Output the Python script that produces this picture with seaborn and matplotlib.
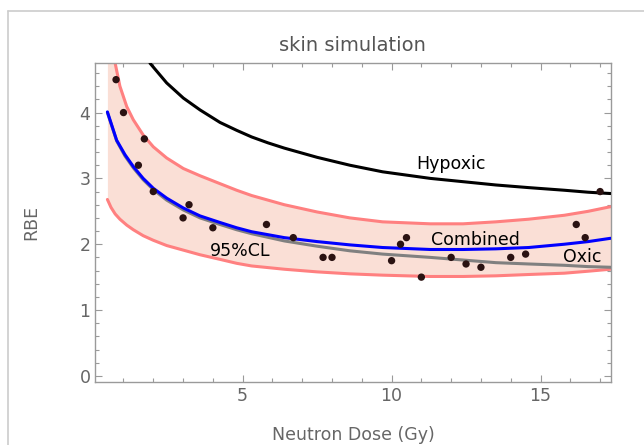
import numpy as np
import seaborn as sns
import matplotlib.pyplot as plt
from matplotlib.ticker import MultipleLocator
from matplotlib.lines import Line2D

# measured data points (dose in Gy, RBE)
dose_pts = [0.75, 1.0, 1.7, 1.5, 2.0, 3.2, 3.0, 4.0, 5.8, 6.7, 7.7, 8.0,
            10.0, 10.3, 10.5, 11.0, 12.0, 12.5, 13.0, 14.0, 14.5, 16.2, 16.5, 17.0]
rbe_pts = [4.5, 4.0, 3.6, 3.2, 2.8, 2.6, 2.4, 2.25, 2.3, 2.1, 1.8, 1.8,
           1.75, 2.0, 2.1, 1.5, 1.8, 1.7, 1.65, 1.8, 1.85, 2.3, 2.1, 2.8]

# fitted curves
fit_dose = [0.46, 0.77, 1.05, 1.33, 1.66, 2.0, 2.45, 3.01, 3.57, 4.24, 4.8,
            5.3, 6.4, 7.5, 8.6, 9.7, 11.3, 12.4, 13.5, 14.6, 15.8, 16.6, 17.35]
combined = [4.01, 3.58, 3.36, 3.18, 3.00, 2.85, 2.70, 2.55, 2.43, 2.33, 2.25,
            2.19, 2.10, 2.04, 1.99, 1.95, 1.92, 1.92, 1.93, 1.95, 2.00, 2.04, 2.09]
oxic = [4.00, 3.57, 3.34, 3.16, 2.98, 2.83, 2.67, 2.52, 2.40, 2.30, 2.22,
        2.16, 2.05, 1.97, 1.90, 1.85, 1.80, 1.76, 1.72, 1.70, 1.68, 1.66, 1.65]

hyp_dose = [1.89, 2.45, 3.01, 3.57, 4.24, 4.8, 5.3, 5.85, 6.4, 7.5, 8.6,
            9.7, 11.3, 12.4, 13.5, 14.6, 15.8, 16.6, 17.35]
hypoxic = [4.75, 4.45, 4.22, 4.04, 3.85, 3.73, 3.63, 3.54, 3.46, 3.32, 3.20,
           3.10, 3.00, 2.95, 2.90, 2.86, 2.82, 2.79, 2.77]

cl_dose = [0.46, 0.58, 0.72, 0.88, 1.11, 1.33, 1.66, 2.0, 2.45, 3.01, 3.57,
           4.24, 4.8, 5.3, 6.4, 7.5, 8.6, 9.7, 11.3, 12.4, 13.5, 14.6, 15.8,
           16.6, 17.35]
cl_upper = [5.7, 5.2, 4.75, 4.40, 4.09, 3.89, 3.66, 3.48, 3.31, 3.15, 3.04,
            2.92, 2.82, 2.74, 2.60, 2.49, 2.40, 2.34, 2.31, 2.31, 2.34, 2.38,
            2.44, 2.50, 2.57]
cl_lower = [2.68, 2.56, 2.46, 2.38, 2.29, 2.22, 2.13, 2.06, 1.98, 1.91, 1.84,
            1.77, 1.71, 1.67, 1.62, 1.58, 1.55, 1.53, 1.51, 1.51, 1.52, 1.54,
            1.56, 1.59, 1.62]

sns.set_style("ticks")
plt.rcParams['font.family'] = ['DejaVu Sans']

frame_col = '#9a9a9a'
text_col = '#666666'
pink = '#ff8080'

fig = plt.figure(figsize=(6.44, 4.45), dpi=100)
ax = fig.add_axes([0.148, 0.142, 0.800, 0.716])

ax.fill_between(cl_dose, cl_lower, cl_upper, color='#fadfd6', lw=0, zorder=1)
sns.lineplot(x=cl_dose, y=cl_upper, color=pink, lw=2.2, ax=ax, zorder=2)
sns.lineplot(x=cl_dose, y=cl_lower, color=pink, lw=2.2, ax=ax, zorder=2)
sns.lineplot(x=hyp_dose, y=hypoxic, color='black', lw=2.2, ax=ax, zorder=3)
sns.lineplot(x=fit_dose, y=oxic, color='#808080', lw=2.2, ax=ax, zorder=3)
sns.lineplot(x=fit_dose, y=combined, color='#0000ff', lw=2.2, ax=ax, zorder=4)
sns.scatterplot(x=dose_pts, y=rbe_pts, color='#2a1212', s=28, edgecolor='none',
                ax=ax, zorder=5)

ax.text(12.0, 3.22, "Hypoxic", fontsize=12.5, color='black', ha='center', va='center')
ax.text(12.8, 2.07, "Combined", fontsize=12.5, color='black', ha='center', va='center')
ax.text(16.4, 1.81, "Oxic", fontsize=12.5, color='black', ha='center', va='center')
ax.text(4.9, 1.89, "95%CL", fontsize=12.5, color='black', ha='center', va='center')

ax.set_xlim(0.054, 17.35)
ax.set_ylim(-0.09, 4.75)
ax.xaxis.set_major_locator(MultipleLocator(5))
ax.xaxis.set_minor_locator(MultipleLocator(1))
ax.yaxis.set_major_locator(MultipleLocator(1))
ax.yaxis.set_minor_locator(MultipleLocator(0.2))
ax.tick_params(which='both', direction='in', top=True, right=True,
               color=frame_col, labelcolor=text_col, labelsize=12.5, width=0.8)
ax.tick_params(which='major', length=5)
ax.tick_params(which='minor', length=3)
for s in ax.spines.values():
    s.set_color(frame_col)
    s.set_linewidth(1.0)

ax.set_title("skin simulation", color='#555555', fontsize=14, pad=9)
ax.set_xlabel("Neutron Dose (Gy)", color=text_col, fontsize=12.5, labelpad=15)
ax.set_ylabel("RBE", color=text_col, fontsize=12.5, labelpad=28)

# outer notebook frame
fig.add_artist(Line2D([0.0125, 0.0125], [0.0, 0.975], color='#cccccc', lw=1.2))
fig.add_artist(Line2D([0.0125, 1.0], [0.975, 0.975], color='#cccccc', lw=1.2))

plt.savefig("out.png", dpi=100)
plt.close()
